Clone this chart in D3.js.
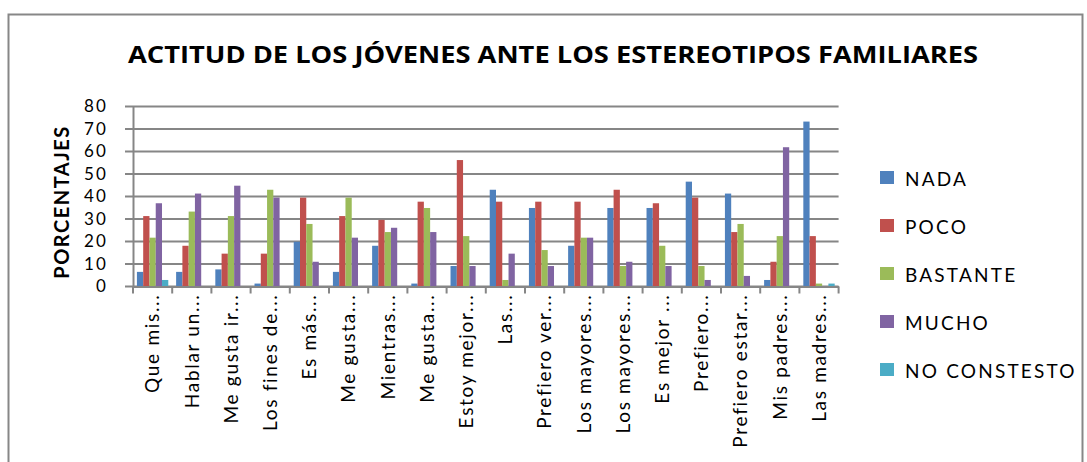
<!DOCTYPE html>
<html><head><meta charset="utf-8">
<script src="https://cdn.jsdelivr.net/npm/d3@7"></script>
<style>body{margin:0;background:#fff}svg{display:block}</style>
</head><body><svg id="c" width="1087" height="462"></svg>
<script>
const categories = ["Que mis...","Hablar un...","Me gusta ir...","Los fines de...","Es más...","Me gusta...","Mientras...","Me gusta...","Estoy mejor...","Las...","Prefiero ver...","Los mayores...","Los mayores...","Es mejor ...","Prefiero...","Prefiero estar...","Mis padres...","Las madres..."];
const seriesNames = ["NADA","POCO","BASTANTE","MUCHO","NO CONSTESTO"];
const nada     = [6.5, 6.5, 7.6, 1.3, 19.9, 6.5, 18.1, 1.3, 9.1, 43, 34.9, 18.1, 34.9, 34.9, 46.6, 41.3, 2.9, 73.3];
const poco     = [31.3, 18.1, 14.6, 14.6, 39.5, 31.3, 29.6, 37.7, 56.2, 37.7, 37.7, 37.7, 43, 37, 39.5, 24.2, 11, 22.4];
const bastante = [21.7, 33.3, 31.3, 43, 27.8, 39.5, 24.2, 34.9, 22.4, 2.9, 16.2, 21.7, 9.1, 18.1, 9.1, 27.8, 22.4, 1.3];
const mucho    = [37, 41.3, 44.8, 39.5, 11, 21.7, 26.1, 24.2, 9.1, 14.6, 9.1, 21.7, 11, 9.1, 2.9, 4.7, 61.9, 0];
const noContesto = [2.9, 0, 0, 0, 0, 0, 0, 0, 0, 0, 0, 0, 0, 0, 0, 0, 0, 1.3];
const yTicks = [0,10,20,30,40,50,60,70,80];
const colors = ["#4F81BD","#C0504D","#9BBB59","#8064A2","#4BACC6"];
const seriesValues = [nada, poco, bastante, mucho, noContesto];

const svg = d3.select("#c");
const font = "Lato, 'Open Sans', sans-serif";
const plotLeft = 133, plotRight = 838.6, plotTop = 106.5, plotBottom = 286.5;

svg.append("rect").attr("x",8.5).attr("y",14.5).attr("width",1074).attr("height",460)
  .attr("fill","#fff").attr("stroke","#878787").attr("stroke-width",2);

svg.append("text").attr("x",553).attr("y",63).attr("text-anchor","middle")
  .attr("font-family","'Open Sans', Lato, sans-serif").attr("font-weight","bold").attr("font-size",23)
  .attr("textLength",850).attr("lengthAdjust","spacingAndGlyphs")
  .text("ACTITUD DE LOS JÓVENES ANTE LOS ESTEREOTIPOS FAMILIARES");

const y = d3.scaleLinear().domain([0,80]).range([plotBottom, plotTop]);
const x0 = d3.scaleBand().domain(d3.range(categories.length)).range([plotLeft, plotRight]);
const x1 = d3.scaleBand().domain(d3.range(seriesNames.length)).range([x0.bandwidth()*0.1, x0.bandwidth()*0.9]);

// gridlines
svg.append("g").selectAll("line").data(yTicks).join("line")
  .attr("x1",125).attr("x2",plotRight).attr("y1",d=>y(d)).attr("y2",d=>y(d))
  .attr("stroke","#868686").attr("stroke-width",2);

// y axis
const yAxis = svg.append("g").attr("transform",`translate(${plotLeft},0)`)
  .call(d3.axisLeft(y).tickValues(yTicks).tickSize(0).tickPadding(25));
yAxis.select(".domain").attr("stroke","#868686").attr("stroke-width",2);
yAxis.selectAll("text").attr("font-family",font).attr("font-size",17).attr("letter-spacing",2.2).attr("fill","#000");

// bars
const groups = svg.append("g").selectAll("g").data(categories.map((c,i)=>i)).join("g")
  .attr("transform",i=>`translate(${x0(i)},0)`);
groups.selectAll("rect").data(i=>seriesValues.map((s,k)=>({k,v:s[i]}))).join("rect")
  .attr("x",d=>x1(d.k)).attr("width",x1.bandwidth())
  .attr("y",d=>y(d.v)).attr("height",d=>y(0)-y(d.v))
  .attr("fill",d=>colors[d.k]);

// x axis
const xAxis = svg.append("g").attr("transform",`translate(0,${plotBottom})`)
  .call(d3.axisBottom(x0).tickSize(0).tickFormat(i=>categories[i]));
xAxis.select(".domain").attr("stroke","#868686").attr("stroke-width",2);
xAxis.selectAll(".tick text").attr("font-family",font).attr("font-size",19).attr("letter-spacing",1.7).attr("fill","#000")
  .attr("transform","rotate(-90)").attr("text-anchor","end")
  .attr("x",-7).attr("y",0).attr("dy","0.36em");
// category separators
xAxis.append("g").selectAll("line").data(d3.range(categories.length+1)).join("line")
  .attr("x1",i=>plotLeft + i*x0.step()).attr("x2",i=>plotLeft + i*x0.step())
  .attr("y1",0).attr("y2",7).attr("stroke","#868686").attr("stroke-width",2);

// y axis title
svg.append("text").attr("transform","translate(69,202) rotate(-90)").attr("text-anchor","middle")
  .attr("font-family",font).attr("font-weight","bold").attr("font-size",20).attr("letter-spacing",1.5)
  .text("PORCENTAJES");

// legend
const lg = svg.append("g").selectAll("g").data(seriesNames).join("g")
  .attr("transform",(d,i)=>`translate(880,${179 + i*48})`);
lg.append("rect").attr("x",0).attr("y",-8).attr("width",14).attr("height",13).attr("fill",(d,i)=>colors[i]);
lg.append("text").attr("x",25).attr("y",0).attr("dy","0.36em")
  .attr("font-family",font).attr("font-size",19).attr("letter-spacing",2.2).text(d=>d);
</script></body></html>
